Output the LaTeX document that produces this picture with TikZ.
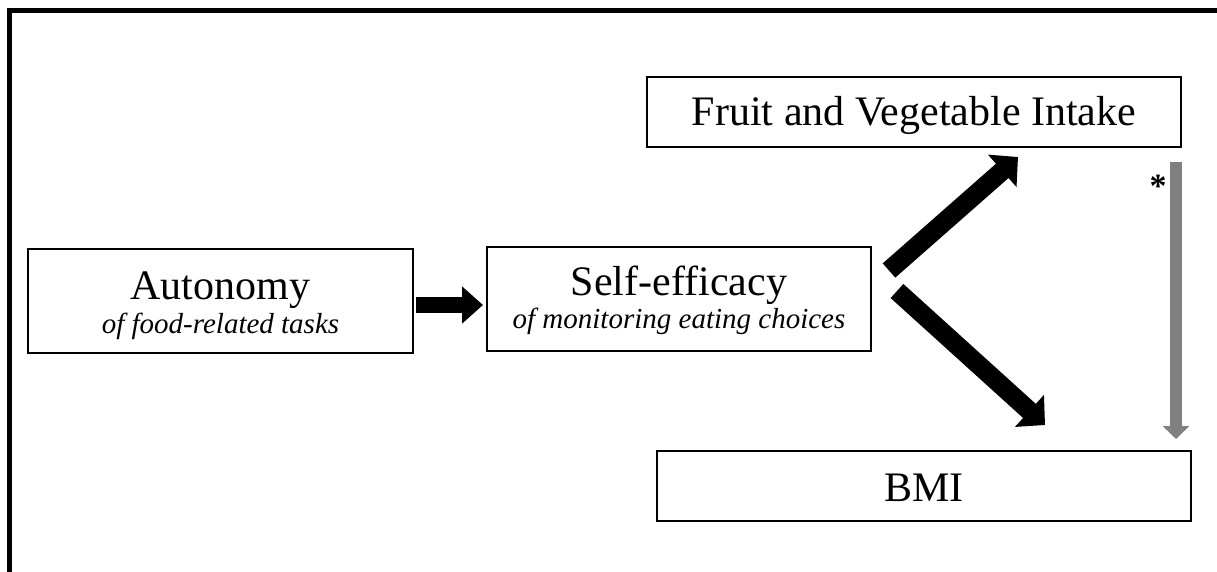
\documentclass[tikz,border=0pt]{standalone}
\usepackage{fontspec}
\setmainfont{Liberation Serif}
\usetikzlibrary{arrows.meta}
\begin{document}
\begin{tikzpicture}[x=1pt,y=-1pt,
  boxnode/.style={draw=black, line width=2.5pt, inner sep=0pt, rectangle},
  titletext/.style={anchor=base, inner sep=0pt, font=\fontsize{42}{46}\selectfont},
  subtext/.style={anchor=base, inner sep=0pt, font=\fontsize{29}{32}\selectfont\itshape},
  bigarrow/.style={line width=19pt, -{Triangle[length=21pt,width=42pt]}},
  smallarrow/.style={line width=16pt, -{Triangle[length=21pt,width=36pt]}},
  grayarrow/.style={draw=gray, line width=12pt, -{Triangle[length=13pt,width=26pt]}}
]
\useasboundingbox (0,0) rectangle (1217,572);
\clip (0,0) rectangle (1217,572);
\draw[line width=5pt, line join=miter] (9.5,600) -- (9.5,10.5) -- (1240,10.5);

% boxes
\node[boxnode, minimum width=385pt, minimum height=104pt] (auto) at (220.5,301) {};
\node[boxnode, minimum width=384pt, minimum height=104pt] (se) at (679,299) {};
\node[boxnode, minimum width=534pt, minimum height=70pt] (fvi) at (914,112) {};
\node[boxnode, minimum width=534pt, minimum height=70pt] (bmi) at (924,486) {};

% texts
\node[titletext] (autot) at (220.5,299) {Autonomy};
\node[subtext] (autos) at (220.5,333) {of food-related tasks};
\node[titletext] (set) at (679,295) {Self-efficacy};
\node[subtext] (ses) at (679,328) {of monitoring eating choices};
\node[titletext] (fvit) at (914,126) {Fruit and Vegetable Intake};
\node[titletext] (bmit) at (924,501) {BMI};

% connector end points
\coordinate (a1) at (416,305);
\coordinate (a2) at (483,305);
\coordinate (u1) at (889,270.5);
\coordinate (u2) at (1018,157);
\coordinate (l1) at (897,291);
\coordinate (l2) at (1045,425);
\coordinate (g1) at (1176,162);
\coordinate (g2) at (1176,439);

\draw[smallarrow] (a1) -- (a2);
\draw[bigarrow] (u1) -- (u2);
\draw[bigarrow] (l1) -- (l2);
\draw[grayarrow] (g1) -- (g2);

\node[anchor=base, inner sep=0pt, font=\fontsize{34}{34}\selectfont\bfseries] (star) at (1158,197) {*};
\end{tikzpicture}
\end{document}
